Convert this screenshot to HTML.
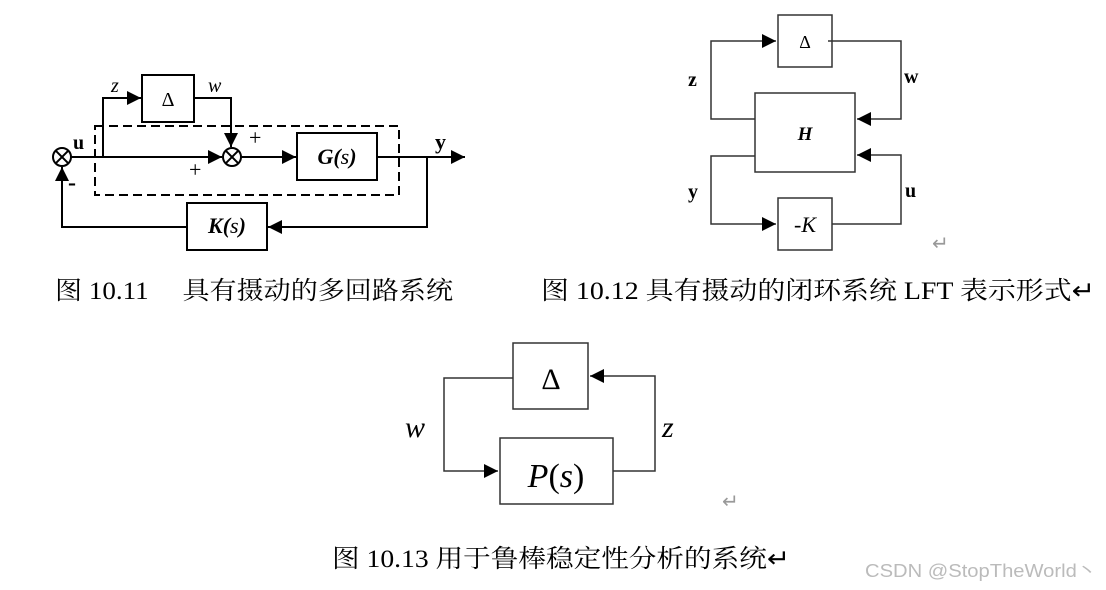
<!DOCTYPE html>
<html><head><meta charset="utf-8"><style>
html,body{margin:0;padding:0;background:#fff;}
svg{display:block}
.cap{font-family:"Liberation Serif","Noto Serif CJK SC",serif;font-size:25px;fill:#000}
.ser{font-family:"Liberation Serif","Noto Serif CJK SC",serif}
</style></head><body>
<svg width="1106" height="590" viewBox="0 0 1106 590" xmlns="http://www.w3.org/2000/svg">
<defs>
<marker id="a" viewBox="0 0 10 10" refX="10" refY="5" markerWidth="14" markerHeight="14" markerUnits="userSpaceOnUse" orient="auto"><path d="M0,0L10,5L0,10z" fill="#000"/></marker>
</defs>
<!-- Figure 10.11 -->
<g stroke="#000" stroke-width="2" fill="none">
<circle cx="62" cy="157" r="9"/><path d="M55.6,150.6l12.8,12.8M68.4,150.6l-12.8,12.8"/>
<circle cx="232" cy="157" r="9"/><path d="M225.6,150.6l12.8,12.8M238.4,150.6l-12.8,12.8"/>
<rect x="142" y="75" width="52" height="47"/>
<rect x="297" y="133" width="80" height="47"/>
<rect x="187" y="203" width="80" height="47"/>
<rect x="95" y="126" width="304" height="69" stroke-dasharray="9,5"/>
<path d="M71,157H222" marker-end="url(#a)"/>
<path d="M103,157V98H141" marker-end="url(#a)"/>
<path d="M194,98H231V147" marker-end="url(#a)"/>
<path d="M241,157H296" marker-end="url(#a)"/>
<path d="M377,157H465" marker-end="url(#a)"/>
<path d="M427,157V227H268" marker-end="url(#a)"/>
<path d="M187,227H62V167" marker-end="url(#a)"/>
</g>
<text x="168" y="106" text-anchor="middle" class="ser" font-size="20">Δ</text>
<text x="337" y="164" text-anchor="middle" class="ser" font-size="22" font-weight="bold" font-style="italic">G(<tspan font-weight="normal">s</tspan>)</text>
<text x="227" y="233" text-anchor="middle" class="ser" font-size="22" font-weight="bold" font-style="italic">K(<tspan font-weight="normal">s</tspan>)</text>
<text x="111" y="92" class="ser" font-size="20" font-style="italic">z</text>
<text x="208" y="92" class="ser" font-size="20" font-style="italic">w</text>
<text x="73" y="149" class="ser" font-size="20" font-weight="bold">u</text>
<text x="435" y="149" class="ser" font-size="22" font-weight="bold">y</text>
<text x="249" y="145" class="ser" font-size="22">+</text>
<text x="189" y="177" class="ser" font-size="22">+</text>
<text x="68" y="190" class="ser" font-size="24" font-weight="bold">-</text>
<text x="55" y="299" class="cap" textLength="398" lengthAdjust="spacingAndGlyphs">图 10.11　 具有摄动的多回路系统</text>

<!-- Figure 10.12 -->
<g stroke="#333" stroke-width="1.5" fill="none">
<rect x="778" y="15" width="54" height="52"/>
<rect x="755" y="93" width="100" height="79"/>
<rect x="778" y="198" width="54" height="52"/>
<path d="M755,119H711V41H776" marker-end="url(#a)"/>
<path d="M828,41H901V119H857" marker-end="url(#a)"/>
<path d="M755,156H711V224H776" marker-end="url(#a)"/>
<path d="M832,224H901V155H857" marker-end="url(#a)"/>
</g>
<text x="805" y="48" text-anchor="middle" class="ser" font-size="18">Δ</text>
<text x="805" y="140" text-anchor="middle" class="ser" font-size="19" font-weight="bold" font-style="italic">H</text>
<text x="805" y="232" text-anchor="middle" class="ser" font-size="22" font-style="italic">-K</text>
<text x="688" y="86" class="ser" font-size="20" font-weight="bold">z</text>
<text x="904" y="83" class="ser" font-size="20" font-weight="bold">w</text>
<text x="688" y="198" class="ser" font-size="20" font-weight="bold">y</text>
<text x="905" y="197" class="ser" font-size="20" font-weight="bold">u</text>
<text x="932" y="250" class="ser" font-size="20" fill="#999">↵</text>
<text x="541" y="299" class="cap" textLength="554" lengthAdjust="spacingAndGlyphs">图 10.12  具有摄动的闭环系统 LFT 表示形式↵</text>

<!-- Figure 10.13 -->
<g stroke="#333" stroke-width="1.5" fill="none">
<rect x="513" y="343" width="75" height="66"/>
<rect x="500" y="438" width="113" height="66"/>
<path d="M513,378H444V471H498" marker-end="url(#a)"/>
<path d="M613,471H655V376H590" marker-end="url(#a)"/>
</g>
<text x="551" y="389" text-anchor="middle" class="ser" font-size="30">Δ</text>
<text x="556" y="487" text-anchor="middle" class="ser" font-size="34" font-style="italic">P<tspan font-style="normal">(</tspan>s<tspan font-style="normal">)</tspan></text>
<text x="405" y="437" class="ser" font-size="30" font-style="italic">w</text>
<text x="662" y="437" class="ser" font-size="30" font-style="italic">z</text>
<text x="722" y="508" class="ser" font-size="20" fill="#999">↵</text>
<text x="332" y="567" class="cap" textLength="458" lengthAdjust="spacingAndGlyphs">图 10.13 用于鲁棒稳定性分析的系统↵</text>
<text x="865" y="577" font-family="Liberation Sans, sans-serif" font-size="18" fill="#bbb" textLength="232" lengthAdjust="spacingAndGlyphs">CSDN @StopTheWorld丶</text>
</svg>
</body></html>
